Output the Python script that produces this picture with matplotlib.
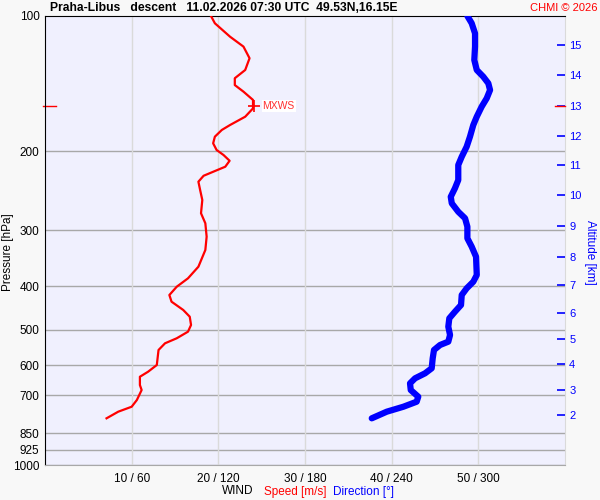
import matplotlib
matplotlib.use("Agg")
import matplotlib.pyplot as plt
import matplotlib.transforms as mtransforms

plt.rcParams["font.family"] = ["Liberation Sans", "DejaVu Sans"]

# wind speed profile [hPa, m/s]
speed_p = [100, 103.8, 111.2, 117.0, 124.2, 131.9, 137.6, 142.5, 147.4, 153.8,
           160.6, 167.6, 174.9, 179.4, 185.7, 192.1, 198.8, 204.0, 210.1, 216.6,
           222.3, 226.9, 233.9, 244.1, 256.9, 275.0, 289.5, 310.1, 332.0, 361.7,
           383.9, 400.8, 418.2, 432.8, 451.6, 467.4, 487.7, 504.7, 522.1, 535.7,
           554.4, 598.8, 619.7, 636.0, 663.7, 680.8, 716.5, 741.7, 760.8, 787.1]
speed_ms = [19.15, 19.6, 21.35, 22.9, 23.6, 23.1, 21.9, 21.9, 22.9, 24.0,
            24.0, 23.1, 21.35, 20.4, 19.6, 19.4, 19.8, 20.6, 21.3, 20.8,
            19.4, 18.3, 17.7, 17.9, 18.15, 18.0, 18.5, 18.65, 18.5, 17.7,
            16.5, 15.2, 14.35, 14.6, 15.95, 16.7, 16.85, 16.5, 15.2, 13.85,
            13.1, 12.9, 11.9, 10.95, 10.95, 11.15, 10.6, 10.0, 8.45, 7.1]

# wind direction profile [hPa, deg]
dir_p = [100, 103.8, 109.3, 117.0, 125.3, 131.9, 136.5, 141.2, 146.2, 152.5,
         159.2, 167.6, 174.9, 185.7, 195.5, 205.8, 214.7, 231.9, 241.9, 252.7,
         261.3, 272.9, 282.2, 294.6, 312.7, 326.4, 343.7, 377.5, 390.7, 404.2,
         418.2, 440.2, 455.6, 471.3, 492.0, 513.4, 531.3, 540.4, 554.4, 578.6,
         609.0, 624.9, 641.1, 657.8, 680.8, 704.6, 722.8, 741.7, 760.8, 787.1]
dir_deg = [292.4, 295.4, 297.7, 297.7, 297.2, 298.9, 303.4, 306.9, 308.1, 305.8,
           302.3, 298.9, 296.5, 294.2, 291.9, 288.5, 286.1, 286.1, 283.8, 280.9,
           281.6, 286.1, 290.8, 292.4, 292.4, 295.4, 298.4, 298.9, 296.5, 291.9,
           288.5, 288.0, 283.8, 279.9, 279.2, 280.4, 279.2, 273.5, 269.3, 268.4,
           267.7, 263.1, 256.2, 252.7, 253.2, 258.4, 257.3, 248.1, 236.6, 226.2]

# max wind
mxws_p = 158.7
mxws_ms = 24.1

p_ticks = [100, 200, 300, 400, 500, 600, 700, 850, 925, 1000]
wind_ticks = [10, 20, 30, 40, 50]
wind_labels = ["10 / 60", "20 / 120", "30 / 180", "40 / 240", "50 / 300"]

# altitude [km] and where its ticks sit on the pressure axis
alt_km = [2, 3, 4, 5, 6, 7, 8, 9, 10, 11, 12, 13, 14, 15]
alt_p = [775, 681, 597, 523, 458, 397.9, 343.7, 293.7, 250.8, 215.0,
         185.0, 158.7, 135.6, 115.8]

fig = plt.figure(figsize=(6, 5), dpi=100, facecolor="#f8f8f8")
ax = fig.add_axes([0.075, 0.07, 0.8667, 0.898])
ax.set_facecolor("#f0f0fe")

ax.set_yscale("log")
ax.set_ylim(1000, 100)
ax.set_xlim(0, 60)
ax.set_yticks(p_ticks)
ax.set_yticklabels([str(p) for p in p_ticks])
ax.yaxis.set_minor_locator(matplotlib.ticker.NullLocator())
ax.set_xticks(wind_ticks)
ax.set_xticklabels(wind_labels)
ax.tick_params(axis="both", length=0, labelsize=8.5, pad=4)
ax.tick_params(axis="x", pad=6)

for p in p_ticks[1:]:
    ax.axhline(p, color="#a8a8a8", lw=1, zorder=1)
for w in wind_ticks:
    ax.axvline(w, color="#dadada", lw=1, zorder=1)

ax.spines["left"].set_color("black")
ax.spines["top"].set_color("black")
ax.spines["right"].set_color("#dadada")
ax.spines["bottom"].set_color("#a8a8a8")

ax.plot(speed_ms, speed_p, color="red", lw=1.6, zorder=3)
ax.plot([mxws_ms], [mxws_p], marker="+", ms=9, mew=1.2, color="red", zorder=4)
ax.text(mxws_ms + 1.0, mxws_p, "MXWS", color="#ff3030", fontsize=7.5, va="center",
        bbox=dict(facecolor="white", edgecolor="none", pad=0.5))

blend = mtransforms.blended_transform_factory(ax.transAxes, ax.transData)
ax.plot([-0.004, 0.021], [mxws_p, mxws_p], color="red", lw=1, transform=blend, clip_on=False)

ax_dir = ax.twiny()
ax_dir.set_xlim(0, 360)
ax_dir.set_xticks([])
ax_dir.plot(dir_deg, dir_p, color="#0000ff", lw=4.5, solid_capstyle="round",
            solid_joinstyle="round", zorder=3)
for s in ax_dir.spines.values():
    s.set_visible(False)

ax_alt = ax.twinx()
ax_alt.set_yscale("log")
ax_alt.set_ylim(1000, 100)
ax_alt.yaxis.set_minor_locator(matplotlib.ticker.NullLocator())
ax_alt.set_yticks(alt_p)
ax_alt.set_yticklabels([str(a) for a in alt_km])
ax_alt.tick_params(axis="y", direction="in", length=6, width=1.2, color="#0000ff",
                   labelcolor="#0000ff", labelsize=8, pad=3)
for s in ax_alt.spines.values():
    s.set_visible(False)
ax_alt.plot([0.98, 1.0], [mxws_p, mxws_p], color="red", lw=1, transform=blend, clip_on=False)

fig.text(0.013, 0.496, "Pressure [hPa]", rotation=90, va="center", ha="center", fontsize=8.5)
fig.text(0.983, 0.496, "Altitude [km]", rotation=270, va="center", ha="center",
         fontsize=8.5, color="#0000ff")

fig.text(0.083, 0.984, "Praha-Libus   descent   11.02.2026 07:30 UTC  49.53N,16.15E",
         fontsize=8.7, fontweight="bold", va="center", ha="left")
fig.text(0.995, 0.984, "CHMI © 2026", fontsize=8, color="red", va="center", ha="right")

fig.text(0.422, 0.017, "WIND", fontsize=8.5, ha="right", va="center")
fig.text(0.44, 0.017, "Speed [m/s]", fontsize=8.5, ha="left", va="center", color="red")
fig.text(0.555, 0.017, "Direction [°]", fontsize=8.5, ha="left", va="center", color="#0000ff")

fig.savefig("out.png", dpi=100, facecolor=fig.get_facecolor())
